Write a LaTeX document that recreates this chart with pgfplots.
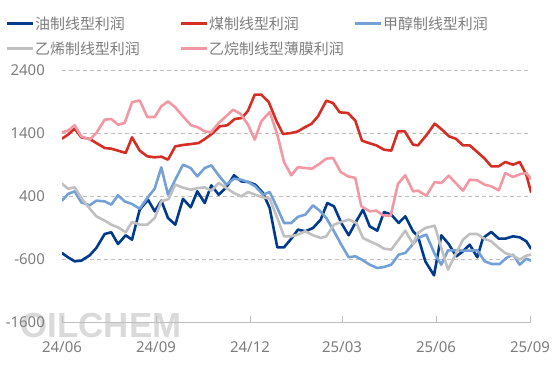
\documentclass[border=0pt]{standalone}
\usepackage{fontspec}
\setmainfont{Noto Sans}
\newfontfamily\cjk{Noto Sans CJK SC}
\newfontfamily\wmfont{Liberation Sans Bold}
\usepackage{pgfplots}
\pgfplotsset{compat=1.18}
\definecolor{oilc}{RGB}{0,58,140}
\definecolor{coalc}{RGB}{214,46,36}
\definecolor{methc}{RGB}{116,160,214}
\definecolor{ethyc}{RGB}{192,192,192}
\definecolor{ethac}{RGB}{243,152,162}
\definecolor{txtc}{RGB}{125,125,125}
\definecolor{gridc}{RGB}{190,190,190}
\definecolor{wmc}{RGB}{218,218,218}
\begin{document}
\begin{tikzpicture}
\path[use as bounding box] (0,0) rectangle (554bp,369bp);
\node[text=wmc, font=\wmfont\fontsize{35}{35}\selectfont, inner sep=0] at (101bp,44bp) {OILCHEM};
\begin{axis}[
  at={(62bp,47bp)}, anchor=south west, scale only axis,
  width=469bp, height=252bp,
  xmin=62, xmax=531, ymin=-1600, ymax=2400,
  xtick={62,156,250,342,436,530},
  xticklabels={24/06,24/09,24/12,25/03,25/06,25/09},
  ytick={-1600,-600,400,1400,2400},
  yticklabels={-1600,-600,400,1400,2400},
  axis x line*=bottom, axis y line*=left,
  x axis line style={draw=gridc, line width=1bp, -},
  y axis line style={draw=none},
  ytick style={draw=none},
  xtick style={draw=gridc, line width=0.8bp},
  tick align=inside, major tick length=6bp,
  ymajorgrids,
  grid style={draw=gridc, line width=0.8bp, dash pattern=on 4bp off 3bp},
  xticklabel style={font=\fontsize{15}{18}\selectfont, text=txtc, anchor=base, yshift=-30bp, inner sep=0},
  yticklabel style={font=\fontsize{15}{18}\selectfont, text=txtc, anchor=east, xshift=-17bp, inner sep=0},
  every axis plot/.append style={line width=2.6bp, line join=round, line cap=round, mark=none},
]
% 油制线型利润
\addplot[oilc] coordinates {
(62,-505)(68,-573)(74.7,-637)(81.3,-626)(89.7,-542)(96.3,-425)(104.7,-203)(111.3,-176)(118,-362)(125.7,-224)(132,-293)(139.7,183)(148,342)(154.7,157)(161.3,326)(168,51)(175.3,-55)(183,355)(190.7,220)(197.3,474)(204.7,289)(211.3,569)(218.7,421)(226.3,537)(234,728)(241.3,633)(248,622)(255.3,580)(263,447)(269.7,209)(277.3,-415)(284,-415)(291.3,-277)(298,-134)(305.3,-160)(313,-108)(320.7,25)(327.3,289)(334,236)(341.3,-28)(348.7,-224)(355.3,-28)(363,183)(369.7,-81)(377.3,-150)(384,146)(391.3,104)(398.7,-28)(405.3,78)(413,-160)(418,-240)(425.3,-637)(434,-859)(441.3,-224)(448.7,-362)(456.3,-557)(463,-478)(469.7,-372)(477.3,-573)(483,-266)(491.3,-171)(498.7,-277)(505.3,-277)(513,-240)(519.7,-256)(526.3,-319)(531,-436)
};
% 煤制线型利润
\addplot[coalc] coordinates {
(62,1310)(68,1374)(74.7,1469)(81.3,1331)(89.7,1305)(96.3,1241)(104.7,1162)(111.3,1151)(118,1120)(125.7,1083)(132,1331)(139.7,1120)(147.3,1030)(154.7,1014)(161.3,1024)(168,977)(175.3,1188)(183,1210)(191.3,1225)(198.7,1241)(205.3,1310)(213,1400)(219.7,1506)(227.3,1522)(234.7,1622)(242,1638)(248,1754)(254.7,2008)(261.3,2008)(268.7,1892)(276.3,1596)(283,1384)(291.3,1400)(298,1426)(304.7,1490)(311.3,1543)(318,1664)(326.3,1913)(333,1876)(339.7,1728)(348,1717)(355.3,1596)(362,1278)(368.7,1241)(376.3,1204)(384,1135)(391.3,1120)(398,1426)(404.7,1426)(413,1215)(418,1204)(426.3,1363)(434.7,1548)(442,1453)(449,1347)(455.7,1310)(463,1204)(469.7,1204)(477.3,1098)(484.7,993)(491.3,871)(498.7,871)(505.3,940)(513,897)(519.7,940)(526.3,738)(531,463)
};
% 甲醇制线型利润
\addplot[methc] coordinates {
(62,326)(68,432)(74.7,474)(81.3,300)(89.7,252)(96.3,326)(104.7,315)(111.3,263)(118,411)(124.7,315)(132,273)(139.7,199)(147.3,368)(154.7,516)(161.3,855)(168,421)(175.3,659)(183,897)(190.7,844)(197.3,712)(204.7,844)(211.3,887)(218.7,728)(226.3,580)(234,675)(241.3,659)(248,622)(255.3,553)(263,421)(269.7,463)(277.3,209)(284,-28)(291.3,-28)(298,70)(305.3,104)(313,252)(319.7,167)(326.3,51)(334,-160)(341.3,-372)(348.7,-573)(355.3,-557)(363,-621)(369.7,-690)(377.3,-743)(384,-727)(391.3,-690)(398.7,-531)(405.3,-505)(413,-362)(418,-266)(426.3,-213)(434.7,-520)(441.3,-690)(448,-462)(455.3,-462)(463,-467)(469.7,-467)(477.3,-462)(484.7,-637)(492,-680)(499.7,-680)(506.3,-584)(513,-531)(519.7,-690)(526.3,-595)(531,-626)
};
% 乙烯制线型利润
\addplot[ethyc] coordinates {
(62,596)(68,516)(74.7,537)(81.3,368)(89.7,199)(96.3,78)(104.7,9)(111.3,-55)(118,-97)(125.7,-176)(132,-12)(139.7,-55)(147.3,-55)(154.7,51)(161.3,315)(168.7,352)(175.3,580)(183,532)(191.3,500)(198,527)(204.7,537)(211.3,484)(218.7,606)(226.3,527)(234,447)(241.3,394)(248,463)(255.3,421)(263,379)(269.7,357)(277.3,51)(284,-240)(291.3,-240)(298,-213)(305.3,-160)(313,-224)(320.7,-266)(326.3,-240)(334,-55)(341.3,-12)(348.7,25)(356.3,-28)(363,-266)(369.7,-319)(377.3,-372)(384,-436)(391.3,-452)(398.7,-293)(405.3,-150)(413,-362)(418,-187)(425.3,-108)(434.7,-71)(441.3,-425)(448,-769)(455.3,-531)(463,-293)(469.7,-203)(477.3,-203)(484.7,-282)(491.3,-319)(498.7,-425)(505.3,-505)(513,-547)(519.7,-610)(526.3,-547)(531,-531)
};
% 乙烷制线型薄膜利润
\addplot[ethac] coordinates {
(62,1410)(68,1437)(74.7,1522)(81.3,1347)(89.7,1294)(96.3,1400)(104.7,1612)(111.3,1622)(118,1532)(124.7,1559)(132,1887)(139.7,1918)(147.3,1654)(154.7,1654)(161.3,1823)(168,1902)(175.3,1807)(183,1664)(191,1522)(198,1490)(204.7,1426)(211,1410)(218.7,1559)(226,1664)(233,1770)(240.7,1702)(248,1532)(254.7,1294)(261.3,1585)(269.7,1733)(277.3,1374)(284,940)(291.3,728)(298,858)(304.7,845)(312,834)(319.7,913)(326.3,993)(333,1003)(340.7,781)(348,712)(355.3,686)(361.3,236)(369.7,157)(376.3,167)(383,93)(390.7,88)(398,595)(405.3,728)(413,474)(418,485)(426.3,405)(434.7,622)(441.3,606)(448.7,723)(455.7,606)(463,485)(469.7,659)(477.3,648)(484.7,580)(491.3,553)(498.7,490)(505.3,765)(513,702)(520.7,749)(526.3,765)(531,675)
};
\end{axis}
% legend
\begin{scope}[line width=3bp]
\draw[oilc]  (7bp,345bp) -- (33bp,345bp);
\draw[coalc] (181bp,345bp) -- (207bp,345bp);
\draw[methc] (355bp,345bp) -- (381bp,345bp);
\draw[ethyc] (7bp,320bp) -- (33bp,320bp);
\draw[ethac] (181bp,320bp) -- (207bp,320bp);
\end{scope}
\begin{scope}[every node/.style={anchor=west, inner sep=0, text=txtc, font=\cjk\fontsize{15}{18}\selectfont}]
\node at (35bp,345bp) {油制线型利润};
\node at (209bp,345bp) {煤制线型利润};
\node at (383bp,345bp) {甲醇制线型利润};
\node at (35bp,320bp) {乙烯制线型利润};
\node at (209bp,320bp) {乙烷制线型薄膜利润};
\end{scope}
\end{tikzpicture}
\end{document}
